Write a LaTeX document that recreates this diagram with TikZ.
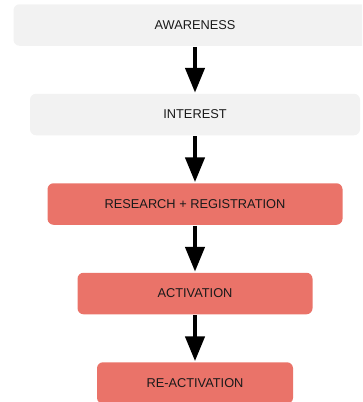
\documentclass[tikz,border=0pt]{standalone}
\usepackage{fontspec}
\setmainfont{Liberation Sans}
\usepackage{tikz}
\usetikzlibrary{arrows.meta}
\usetikzlibrary{positioning}

\definecolor{stagegray}{HTML}{F2F2F2}
\definecolor{stagered}{HTML}{EA7369}
\definecolor{stagetext}{HTML}{1A1A1A}

\begin{document}
\begin{tikzpicture}[
        x=1pt, y=1pt,
        node distance=48pt,
        every node/.style={font=\fontsize{12.8}{14}\selectfont, text=stagetext},
        stage/.style={rounded corners=6pt, minimum height=41.5pt, inner sep=0pt, outer sep=0pt, align=center},
        cold/.style={stage, fill=stagegray},
        hot/.style={stage, fill=stagered},
        arrow/.style={-{Triangle[width=19pt, length=25pt]}, line width=4.5pt, shorten <=1pt, shorten >=1pt}
    ]
        \useasboundingbox (0,0) rectangle (362,-402);
        \clip (0,0) rectangle (362,-402);

        \node[cold, minimum width=363pt] (awareness) at (195,-25) {AWARENESS};
        \node[cold, minimum width=330pt, below=of awareness] (interest) {INTEREST};
        \node[hot, minimum width=295pt, below=of interest] (research) {RESEARCH + REGISTRATION};
        \node[hot, minimum width=235pt, below=of research] (activation) {ACTIVATION};
        \node[hot, minimum width=196pt, below=of activation] (reactivation) {RE-ACTIVATION};

        % funnel arrows
        \draw[arrow] (awareness) -- (interest);
        \draw[arrow] (interest) -- (research);
        \draw[arrow] (research) -- (activation);
        \draw[arrow] (activation) -- (reactivation);
    \end{tikzpicture}
\end{document}
